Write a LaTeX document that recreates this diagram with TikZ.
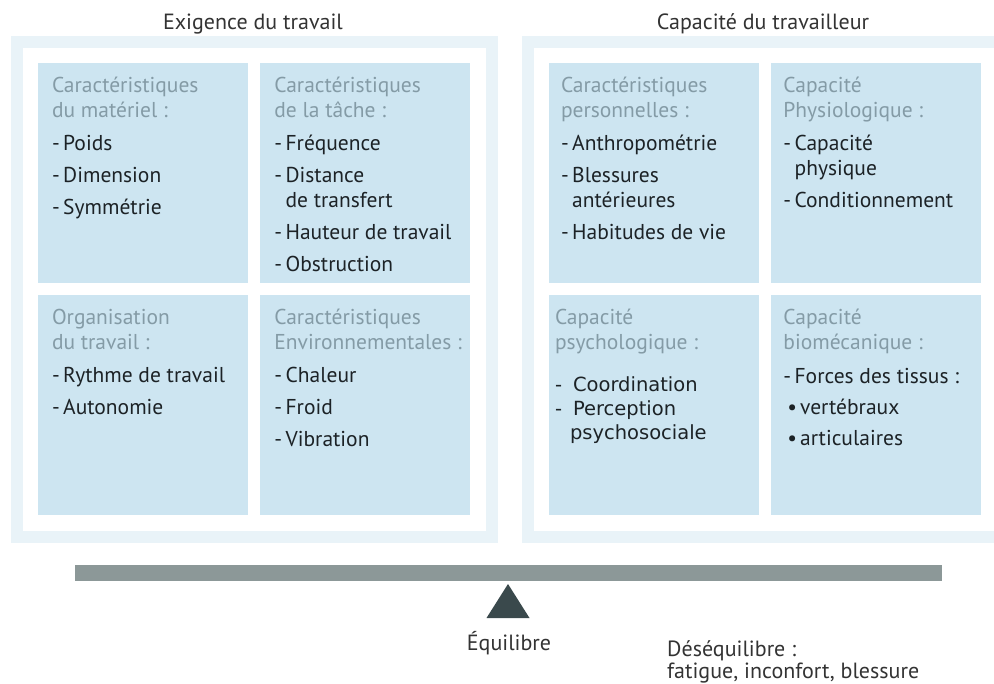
\documentclass[tikz,border=0pt]{standalone}
\usepackage{fontspec}
\setmainfont{PT Sans}
\newfontfamily\verdfont{DejaVu Sans}
\usetikzlibrary{positioning,fit,backgrounds}
\definecolor{boxblue}{RGB}{205,229,241}
\definecolor{paleblue}{RGB}{233,243,248}
\definecolor{hdrgray}{RGB}{132,155,166}
\definecolor{itemdark}{RGB}{28,34,38}
\definecolor{bargray}{RGB}{140,152,152}
\definecolor{pivdark}{RGB}{58,73,76}
\newcommand{\hd}[1]{\textcolor{hdrgray}{#1}}
\newcommand{\itm}{-\kern3.5pt}
\newcommand{\cont}{\hphantom{\itm}}
\begin{document}
\begin{tikzpicture}[x=1pt,y=-1pt,
    node distance=12pt and 12pt,
    cbox/.style={fill=boxblue,minimum width=210pt,minimum height=220pt,inner sep=0pt},
    txt/.style={align=left,inner sep=0pt,text=itemdark,font=\fontsize{21.5}{25}\selectfont,
      execute at begin node={\rule{0pt}{17pt}}},
    title/.style={inner sep=0pt,text=black!80,font=\fontsize{22}{22}\selectfont},
    inner/.style={fill=white,inner sep=15pt},
    outer/.style={fill=paleblue,inner sep=27pt}
    ]
    \useasboundingbox (0,0) rectangle (994,684);

    % exigence du travail
    \node[cbox] (b1) at (143,173) {};
    \node[cbox, right=of b1] (b2) {};
    \node[cbox, below=of b1] (b3) {};
    \node[cbox, right=of b3] (b4) {};

    % capacite du travailleur
    \node[cbox] (b5) at (654,173) {};
    \node[cbox, right=of b5] (b6) {};
    \node[cbox, below=of b5] (b7) {};
    \node[cbox, right=of b7] (b8) {};

    \begin{scope}[on background layer]
      \node[outer, fit=(b1)(b4)] (pl) {};
      \node[inner, fit=(b1)(b4)] {};
      \node[outer, fit=(b5)(b8)] (pr) {};
      \node[inner, fit=(b5)(b8)] {};
    \end{scope}

    \node[title, anchor=base] at (253,30) {Exigence du travail};
    \node[title, anchor=base] at (763,30) {Capacité du travailleur};

    \node[txt, below right=14pt and 14pt of b1.north west] {\hd{Caractéristiques}\\
      \hd{du matériel :}\\[8pt]
      \itm Poids\\[7pt] \itm Dimension\\[7pt] \itm Symmétrie};
    \node[txt, below right=14pt and 14pt of b2.north west] {\hd{Caractéristiques}\\
      \hd{de la tâche :}\\[8pt]
      \itm Fréquence\\[7pt] \itm Distance\\ \cont de transfert\\[7pt]
      \itm Hauteur de travail\\[7pt] \itm Obstruction};
    \node[txt, below right=14pt and 14pt of b3.north west] {\hd{Organisation}\\
      \hd{du travail :}\\[8pt]
      \itm Rythme de travail\\[7pt] \itm Autonomie};
    \node[txt, below right=14pt and 14pt of b4.north west] {\hd{Caractéristiques}\\
      \hd{Environnementales :}\\[8pt]
      \itm Chaleur\\[7pt] \itm Froid\\[7pt] \itm Vibration};

    \node[txt, below right=14pt and 12pt of b5.north west] {\hd{Caractéristiques}\\
      \hd{personnelles :}\\[8pt]
      \itm Anthropométrie\\[7pt] \itm Blessures\\ \cont antérieures\\[7pt]
      \itm Habitudes de vie};
    \node[txt, below right=14pt and 12pt of b6.north west] {\hd{Capacité}\\
      \hd{Physiologique :}\\[8pt]
      \itm Capacité\\ \cont physique\\[7pt] \itm Conditionnement};
    \node[txt, below right=14pt and 6pt of b7.north west] (psy) {\hd{Capacité}\\
      \hd{psychologique :}};
    \node[txt, font=\verdfont\fontsize{19.5}{24}\selectfont, below right=22pt and 0pt of psy.south west] {-\kern11pt Coordination\\
      -\kern11pt Perception\\ \hspace*{15pt}psychosociale};
    \node[txt, below right=14pt and 12pt of b8.north west] {\hd{Capacité}\\
      \hd{biomécanique :}\\[9pt]
      \itm Forces des tissus :\\[6pt] \hspace*{4pt}•\kern3pt vertébraux\\[6pt] \hspace*{4pt}•\kern3pt articulaires};

    % balance
    \node[fill=bargray, minimum width=867pt, minimum height=16pt, inner sep=0pt] (bar) at (508.5,573) {};
    \coordinate (piv) at (508,584);
    \fill[pivdark] (piv) -- ++(21.5,34) -- ++(-43,0) -- cycle;
    \node[title, anchor=base] (eq) at (509,650) {Équilibre};
    \node[title, align=left, anchor=base west] (deseq) at (667,678) {Déséquilibre :\\fatigue, inconfort, blessure};
\end{tikzpicture}
\end{document}
